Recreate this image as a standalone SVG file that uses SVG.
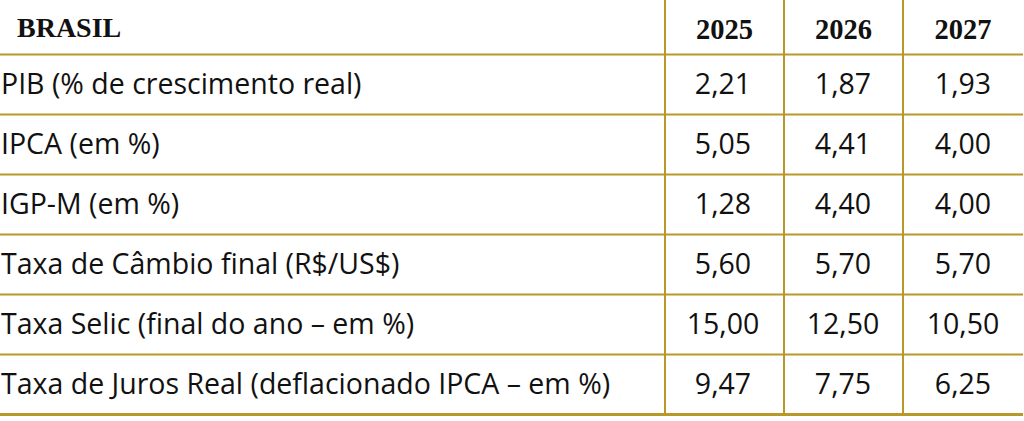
<svg xmlns="http://www.w3.org/2000/svg" width="1024" height="421" viewBox="0 0 1024 421">
<style>
.ln{stroke:#b9982a;stroke-width:2;fill:none}
.hd{font-family:"Liberation Serif",serif;font-weight:bold;font-size:28px;fill:#111}
.yr{font-family:"Liberation Serif",serif;font-weight:bold;font-size:28.5px;fill:#111;text-anchor:middle}
.lb{font-family:"Open Sans","Noto Sans",sans-serif;font-size:28.5px;fill:#111}
.nm{font-family:"Open Sans","Noto Sans",sans-serif;font-size:28.5px;fill:#111;text-anchor:middle}
</style>
<rect width="1024" height="421" fill="#fff"/>
<g id="connectors">
<line class="ln" x1="0" y1="54.5" x2="1023" y2="54.5"/>
<line class="ln" x1="0" y1="114.5" x2="1023" y2="114.5"/>
<line class="ln" x1="0" y1="174.5" x2="1023" y2="174.5"/>
<line class="ln" x1="0" y1="234.5" x2="1023" y2="234.5"/>
<line class="ln" x1="0" y1="294.5" x2="1023" y2="294.5"/>
<line class="ln" x1="0" y1="354.5" x2="1023" y2="354.5"/>
<line class="ln" x1="0" y1="414.5" x2="1023" y2="414.5" style="stroke-width:3"/>
<line class="ln" x1="665" y1="0" x2="665" y2="414"/>
<line class="ln" x1="784" y1="0" x2="784" y2="414"/>
<line class="ln" x1="903" y1="0" x2="903" y2="414"/>
</g>
<g id="header">
<text class="hd" x="17" y="37">BRASIL</text>
<text class="yr" x="724.5" y="39">2025</text>
<text class="yr" x="843.5" y="39">2026</text>
<text class="yr" x="963" y="39">2027</text>
</g>
<g id="row1">
<text class="lb" x="1" y="94">PIB (% de crescimento real)</text>
<text class="nm" x="723" y="94">2,21</text>
<text class="nm" x="843" y="94">1,87</text>
<text class="nm" x="963" y="94">1,93</text>
</g>
<g id="row2">
<text class="lb" x="1" y="154">IPCA (em %)</text>
<text class="nm" x="723" y="154">5,05</text>
<text class="nm" x="843" y="154">4,41</text>
<text class="nm" x="963" y="154">4,00</text>
</g>
<g id="row3">
<text class="lb" x="1" y="214">IGP-M (em %)</text>
<text class="nm" x="723" y="214">1,28</text>
<text class="nm" x="843" y="214">4,40</text>
<text class="nm" x="963" y="214">4,00</text>
</g>
<g id="row4">
<text class="lb" x="1" y="274">Taxa de Câmbio final (R$/US$)</text>
<text class="nm" x="723" y="274">5,60</text>
<text class="nm" x="843" y="274">5,70</text>
<text class="nm" x="963" y="274">5,70</text>
</g>
<g id="row5">
<text class="lb" x="1" y="334">Taxa Selic (final do ano – em %)</text>
<text class="nm" x="723" y="334">15,00</text>
<text class="nm" x="843" y="334">12,50</text>
<text class="nm" x="963" y="334">10,50</text>
</g>
<g id="row6">
<text class="lb" x="1" y="394">Taxa de Juros Real (deflacionado IPCA – em %)</text>
<text class="nm" x="723" y="394">9,47</text>
<text class="nm" x="843" y="394">7,75</text>
<text class="nm" x="963" y="394">6,25</text>
</g>
</svg>
